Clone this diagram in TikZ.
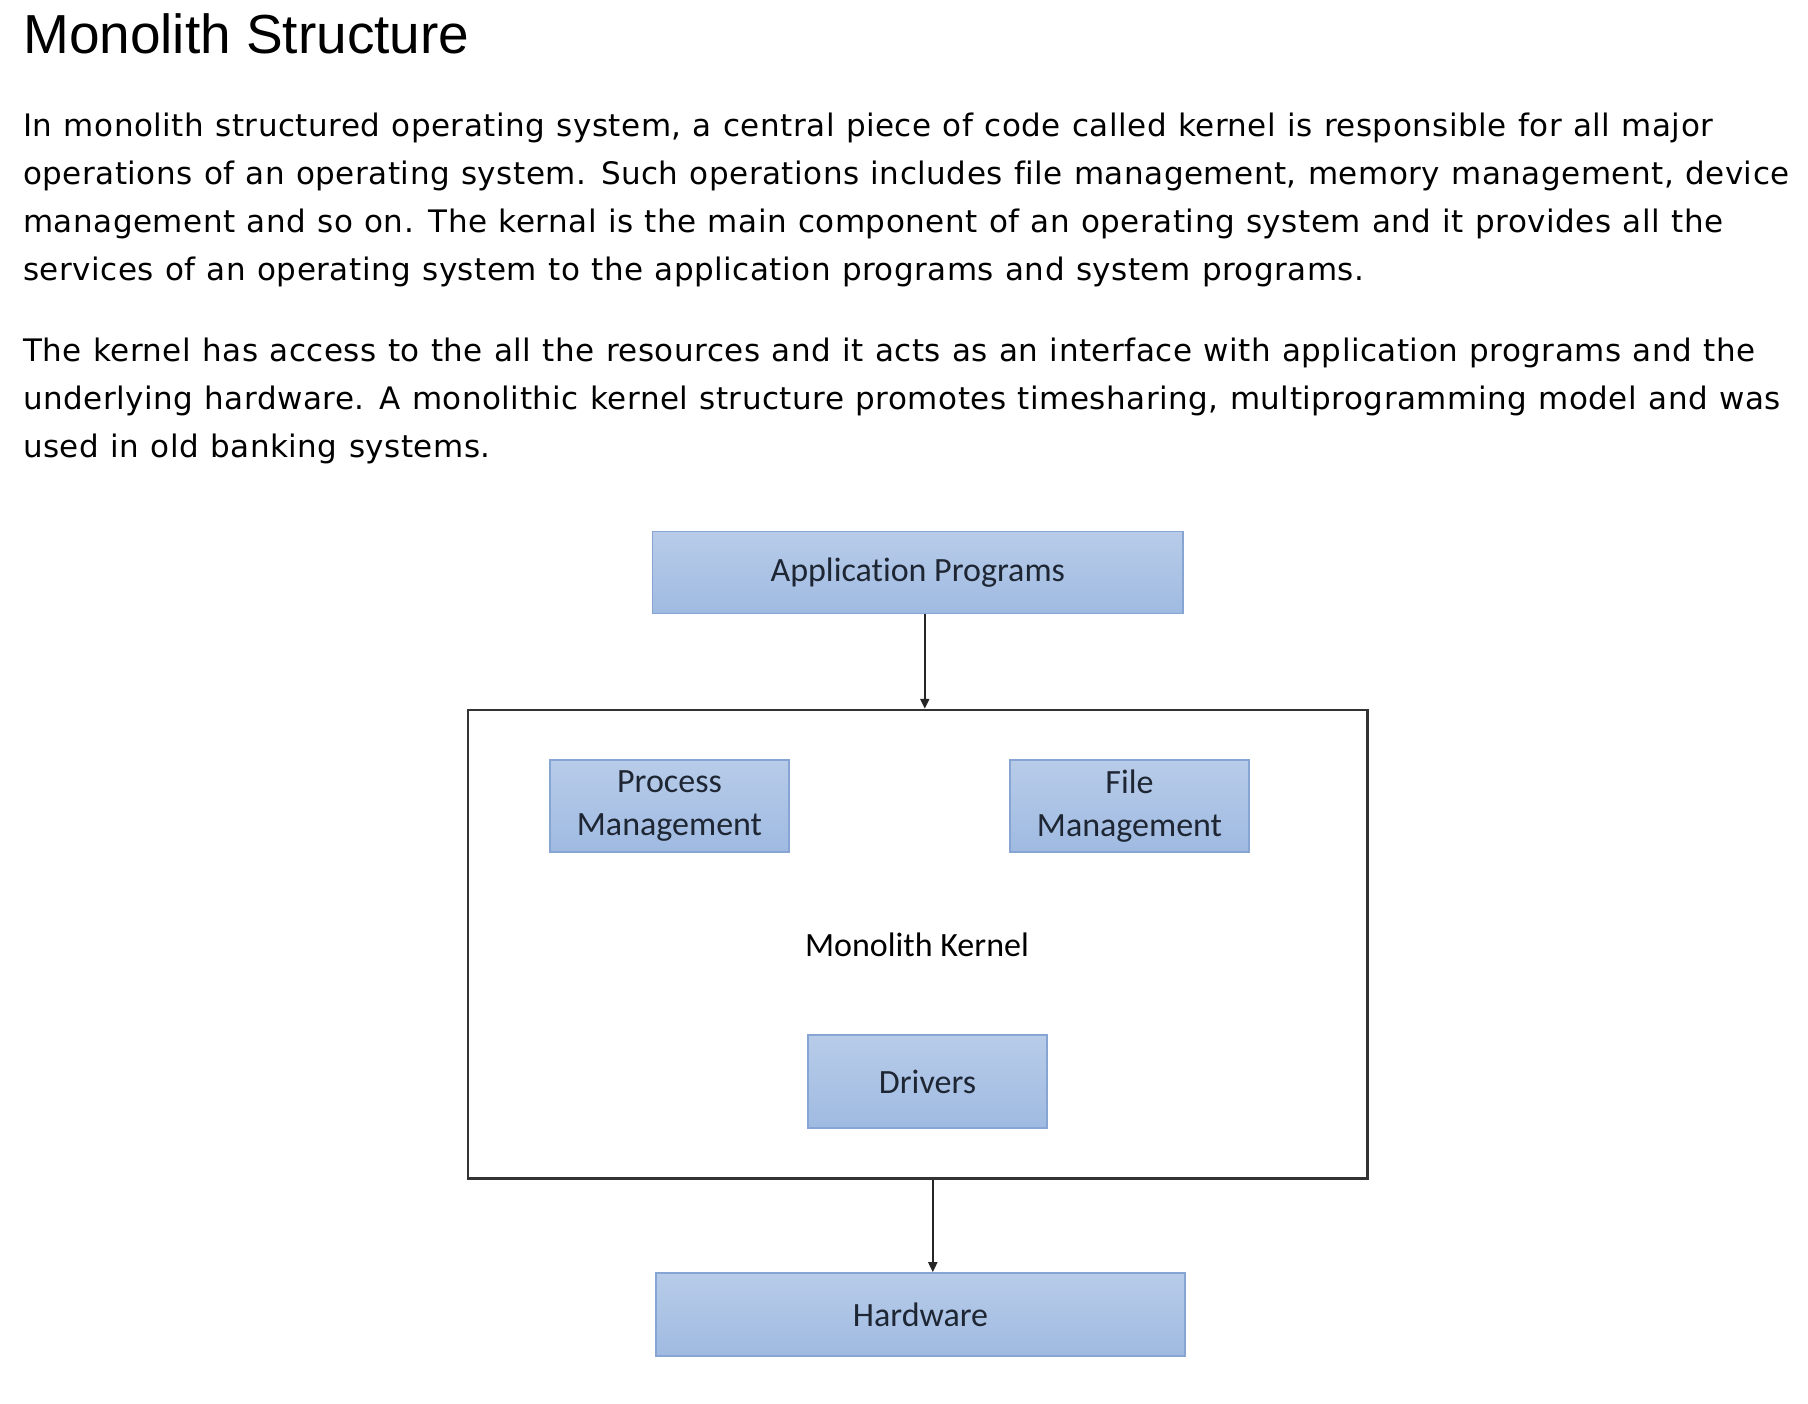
\documentclass[tikz,border=0pt]{standalone}
\usepackage{fontspec}
\setmainfont[Ligatures=NoCommon, LetterSpace=1.6, WordSpace=1.1]{DejaVu Sans}
\newfontfamily\titlefont{Liberation Sans}
\newfontfamily\boxfont[Ligatures=NoCommon]{Carlito}
\usetikzlibrary{arrows.meta}
\definecolor{boxtop}{HTML}{B8CCE9}
\definecolor{boxbot}{HTML}{9FBAE1}
\definecolor{boxline}{HTML}{86A5D3}
\definecolor{boxtext}{HTML}{1E2633}
\definecolor{kline}{HTML}{333333}
\tikzset{
  para/.style={anchor=base west, inner sep=0pt, font=\fontsize{31}{48}\selectfont, text=black},
  blue box/.style={draw=boxline, line width=1.6pt, top color=boxtop, bottom color=boxbot, inner sep=0pt, align=center, text=boxtext, font=\boxfont\fontsize{34}{43}\selectfont},
  kernelbox/.style={draw=kline, line width=2.4pt, inner sep=0pt},
  arr/.style={draw=black!85, line width=2pt, -{Triangle[length=10pt,width=9pt]}}
}
\begin{document}
\begin{tikzpicture}[x=1pt,y=-1pt]
\useasboundingbox[fill=white] (0,0) rectangle (1808,1404);
\node[anchor=base west, inner sep=0pt, font=\titlefont\fontsize{55}{60}\selectfont] (title) at (23,54) {Monolith Structure};
\node[para] (p1) at (23,137) {In monolith structured operating system, a central piece of code called kernel is responsible for all major};
\node[para] (p2) at (23,185) {operations of an operating system. Such operations includes file management, memory management, device};
\node[para] (p3) at (23,233) {management and so on. The kernal is the main component of an operating system and it provides all the};
\node[para] (p4) at (23,281) {services of an operating system to the application programs and system programs.};
\node[para] (q1) at (23,362) {The kernel has access to the all the resources and it acts as an interface with application programs and the};
\node[para] (q2) at (23,410) {underlying hardware. A monolithic kernel structure promotes timesharing, multiprogramming model and was};
\node[para] (q3) at (23,458) {used in old banking systems.};

\node[kernelbox, minimum width=899.6pt, minimum height=468.5pt] (kernel) at (917.8,944.2) {};
\node[blue box, minimum width=530.4pt, minimum height=81.9pt] (app) at (917.8,572.5) {Application Programs};
\node[blue box, minimum width=239pt, minimum height=92pt] (proc) at (669.5,806) {Process\\Management};
\node[blue box, minimum width=239pt, minimum height=92pt] (file) at (1129.5,806) {File\\Management};
\node[inner sep=0pt, font=\boxfont\fontsize{34}{43}\selectfont, text=black] (klabel) at (917,945) {Monolith Kernel};
\node[blue box, minimum width=239pt, minimum height=93pt] (drv) at (927.5,1081.5) {Drivers};
\node[blue box, minimum width=529pt, minimum height=83pt] (hw) at (920.5,1314.5) {Hardware};

\draw[arr] ([xshift=7pt]app.south) -- ([xshift=7pt]app.south |- kernel.north);
\draw[arr] ([xshift=15pt]kernel.south) -- ([xshift=15pt]kernel.south |- hw.north);
\end{tikzpicture}
\end{document}
